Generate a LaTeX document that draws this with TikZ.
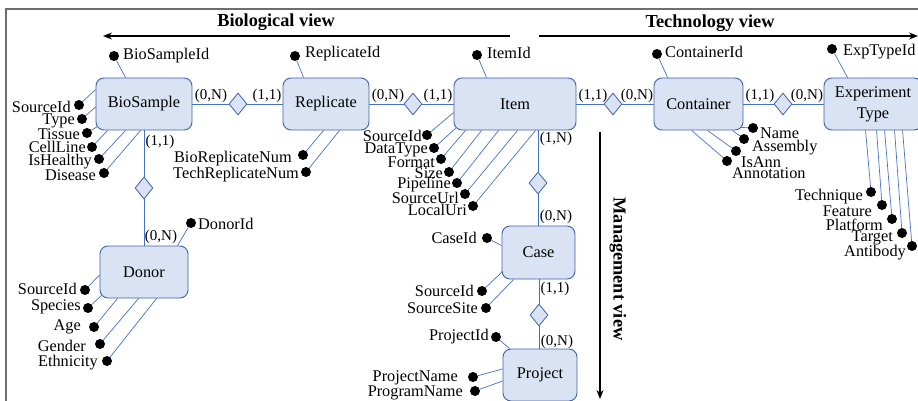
\documentclass[tikz,border=0pt]{standalone}
\usepackage{fontspec}
\setmainfont{Liberation Serif}
\usetikzlibrary{shapes.geometric,arrows.meta,calc}
\definecolor{entf}{RGB}{218,227,243}
\definecolor{entb}{RGB}{62,98,168}
\definecolor{lnb}{RGB}{68,114,196}
\definecolor{frm}{RGB}{110,110,110}
\newcommand\attdot[5]{\node[dotn] (#1) at (#2) {};\node[att,anchor=#3] (#1t) at (#4) {#5};}
\begin{document}
\begin{tikzpicture}[x=1pt,y=-1pt,
  ent/.style={draw=entb,fill=entf,rounded corners=8pt,line width=0.9pt,inner sep=0pt,
    font=\fontsize{16.3}{21}\selectfont,align=center},
  rel/.style={diamond,draw=entb,fill=entf,line width=0.8pt,minimum width=18pt,minimum height=22pt,inner sep=0pt},
  dotn/.style={circle,fill=black,inner sep=0pt,minimum size=10pt},
  lnk/.style={draw=lnb,line width=0.7pt},
  att/.style={inner sep=0pt,font=\fontsize{16.3}{19}\selectfont},
  card/.style={inner sep=0pt,font=\fontsize{15}{17}\selectfont},
  ttl/.style={inner sep=0pt,font=\fontsize{18.3}{21}\selectfont\bfseries},
  varrow/.style={line width=1.6pt,-{Stealth[length=9pt,width=7pt]}}]
\clip (0,0) rectangle (918,401);
% frame
\draw[frm,line width=1.2pt] (920,9) -- (6,9) -- (6,403);
% view arrows and titles
\node[ttl] (tbio) at (276,22) {Biological view};
\node[ttl] (ttec) at (710,23) {Technology view};
\node[ttl,rotate=-90] (tman) at (618,269) {Management view};
\coordinate (bvR) at (510,36); \coordinate (bvL) at (103,36);
\coordinate (tvL) at (539,36); \coordinate (tvR) at (918,36);
\coordinate (mvT) at (600,132); \coordinate (mvB) at (600,399);
\draw[varrow] (bvR) -- (bvL);
\draw[varrow] (tvL) -- (tvR);
\draw[varrow] (mvT) -- (mvB);
% entities
\node[ent,minimum width=96pt,minimum height=52pt] (bs) at (144,104) {BioSample};
\node[ent,minimum width=86pt,minimum height=52pt] (rp) at (326,104) {Replicate};
\node[ent,minimum width=122pt,minimum height=52pt] (it) at (515,104) {Item};
\node[ent,minimum width=89pt,minimum height=52pt] (ct) at (698.5,104) {Container};
\node[ent,minimum width=98pt,minimum height=52pt] (et) at (873,104) {Experiment\\Type};
\node[ent,minimum width=88pt,minimum height=52pt] (dn) at (144,272) {Donor};
\node[ent,minimum width=73pt,minimum height=53pt] (cs) at (538.5,252.5) {Case};
\node[ent,minimum width=74pt,minimum height=52pt] (pj) at (540,375) {Project};
% relationships
\node[rel] (r1) at (238,104) {};
\node[rel] (r2) at (413,104) {};
\node[rel] (r3) at (613,104) {};
\node[rel] (r4) at (783,104) {};
\node[rel] (r5) at (144,188) {};
\node[rel] (r6) at (538,183) {};
\node[rel] (r7) at (539,315) {};
\draw[lnk] (bs) -- (r1) -- (rp);
\draw[lnk] (rp) -- (r2) -- (it);
\draw[lnk] (it) -- (r3) -- (ct);
\draw[lnk] (ct) -- (r4) -- (et);
\draw[lnk] (bs) -- (r5) -- (dn);
\draw[lnk] (r6 |- it.south) -- (r6) -- (r6 |- cs.north);
\draw[lnk] (r7 |- cs.south) -- (r7) -- (r7 |- pj.north);
% cardinalities
\node[card] (c1) at (211,96) {(0,N)};
\node[card] (c2) at (267,96) {(1,1)};
\node[card] (c3) at (388,96) {(0,N)};
\node[card] (c4) at (438,96) {(1,1)};
\node[card] (c5) at (593,96) {(1,1)};
\node[card] (c6) at (637,96) {(0,N)};
\node[card] (c7) at (760,96) {(1,1)};
\node[card] (c8) at (807,96) {(0,N)};
\node[card] (c9) at (160,142) {(1,1)};
\node[card] (c10) at (161,237) {(0,N)};
\node[card] (c11) at (556,139) {(1,N)};
\node[card] (c12) at (556,217) {(0,N)};
\node[card] (c13) at (555,289) {(1,1)};
\node[card] (c14) at (557,342) {(0,N)};
% BioSample attributes
\attdot{bsid}{114,56}{west}{123,56}{BioSampleId}
\attdot{bsa}{79,105}{east}{71,107}{SourceId}
\attdot{bsb}{82,119}{east}{75,121}{Type}
\attdot{bsc}{87,133}{east}{80,134}{Tissue}
\attdot{bsd}{92,147}{east}{86,147}{CellLine}
\attdot{bse}{99,159}{east}{92,162}{IsHealthy}
\attdot{bsf}{104,173}{east}{96,175}{Disease}
\draw[lnk] (bsid) -- ($(bs.north west)+(30,0)$);
\draw[lnk] (bsa) -- ($(bs.north west)+(0,12)$);
\draw[lnk] (bsb) -- ($(bs.west)+(0,3)$);
\draw[lnk] (bsc) -- ($(bs.south west)+(2,-4)$);
\draw[lnk] (bsd) -- ($(bs.south west)+(12,0)$);
\draw[lnk] (bse) -- ($(bs.south west)+(30,0)$);
\draw[lnk] (bsf) -- ($(bs.south west)+(45,0)$);
% Replicate attributes
\attdot{rpid}{295,56}{west}{305,54}{ReplicateId}
\attdot{rpa}{303,155}{east}{292,159}{BioReplicateNum}
\attdot{rpb}{306,172}{east}{299,175}{TechReplicateNum}
\draw[lnk] (rpid) -- ($(rp.north west)+(21,0)$);
\draw[lnk] (rpa) -- ($(rp.south west)+(41,0)$);
\draw[lnk] (rpb) -- ($(rp.south west)+(57,0)$);
% Item attributes
\attdot{itid}{477,55}{west}{487,53}{ItemId}
\attdot{ita}{427,135}{east}{422,136}{SourceId}
\attdot{itb}{434,148}{east}{428,150}{DataType}
\attdot{itc}{441,159}{east}{435,162}{Format}
\attdot{itd}{449,172}{east}{443,173}{Size}
\attdot{ite}{457,183}{east}{451,185}{Pipeline}
\attdot{itf}{465,194}{east}{459,198}{SourceUrl}
\attdot{itg}{473,206}{east}{467,210}{LocalUri}
\draw[lnk] (itid) -- ($(it.north west)+(33,0)$);
\draw[lnk] (ita) -- ($(it.north west)+(0,35)$);
\draw[lnk] (itb) -- ($(it.south west)+(3,-3)$);
\draw[lnk] (itc) -- ($(it.south west)+(12,0)$);
\draw[lnk] (itd) -- ($(it.south west)+(28,0)$);
\draw[lnk] (ite) -- ($(it.south west)+(45,0)$);
\draw[lnk] (itf) -- ($(it.south west)+(64,0)$);
\draw[lnk] (itg) -- ($(it.south west)+(82,0)$);
% Container attributes
\attdot{ctid}{657,54}{west}{665,52}{ContainerId}
\attdot{cta}{753,128}{west}{760,133}{Name}
\attdot{ctb}{744,139}{west}{752,148}{Assembly}
\attdot{ctc}{736,151}{west}{741,162}{IsAnn}
\attdot{ctd}{727,161}{west}{732,173}{Annotation}
\draw[lnk] (ctid) -- ($(ct.north west)+(14,0)$);
\draw[lnk] (cta) -- ($(ct.south east)+(-2,-3)$);
\draw[lnk] (ctb) -- ($(ct.south east)+(-11,0)$);
\draw[lnk] (ctc) -- ($(ct.south west)+(54,0)$);
\draw[lnk] (ctd) -- ($(ct.south west)+(38,0)$);
% Experiment Type attributes
\attdot{etid}{832,49}{west}{843,52}{ExpTypeId}
\attdot{eta}{871,192}{east}{863,197}{Technique}
\attdot{etb}{882,205}{east}{872,211}{Feature}
\attdot{etc}{892,219}{east}{883,225}{Platform}
\attdot{etd}{902,233}{east}{893,238}{Target}
\attdot{ete}{912,246}{east}{906,253}{Antibody}
\draw[lnk] (etid) -- ($(et.north west)+(24,0)$);
\draw[lnk] (eta) -- ($(et.south west)+(42,0)$);
\draw[lnk] (etb) -- ($(et.south west)+(53,0)$);
\draw[lnk] (etc) -- ($(et.south west)+(61,0)$);
\draw[lnk] (etd) -- ($(et.south west)+(71,0)$);
\draw[lnk] (ete) -- ($(et.south west)+(79,0)$);
% Donor attributes
\attdot{dnid}{191,223}{west}{198,224}{DonorId}
\attdot{dna}{85,290}{east}{77,289}{SourceId}
\attdot{dnb}{88,308}{east}{81,307}{Species}
\attdot{dnc}{94,327}{east}{81,327}{Age}
\attdot{dnd}{100,344}{east}{86,346}{Gender}
\attdot{dne}{107,361}{east}{98,363}{Ethnicity}
\draw[lnk] (dnid) -- ($(dn.north east)+(-11,0)$);
\draw[lnk] (dna) -- ($(dn.west)+(0,3)$);
\draw[lnk] (dnb) -- ($(dn.south west)+(2,-3)$);
\draw[lnk] (dnc) -- ($(dn.south west)+(18,0)$);
\draw[lnk] (dnd) -- ($(dn.south west)+(39,0)$);
\draw[lnk] (dne) -- ($(dn.south west)+(57,0)$);
% Case attributes
\attdot{csid}{487,238}{east}{477,238}{CaseId}
\attdot{csa}{482,291}{east}{474,291}{SourceId}
\attdot{csb}{486,308}{east}{478,308}{SourceSite}
\draw[lnk] (csid) -- ($(cs.west)+(0,-7)$);
\draw[lnk] (csa) -- ($(cs.south west)+(1,-8)$);
\draw[lnk] (csb) -- ($(cs.south west)+(12,0)$);
% Project attributes
\attdot{pjid}{496,337}{east}{489,337}{ProjectId}
\attdot{pja}{473,377}{east}{458,378}{ProjectName}
\attdot{pjb}{475,391}{east}{463,393}{ProgramName}
\draw[lnk] (pjid) -- ($(pj.north west)+(7,0)$);
\draw[lnk] (pja) -- ($(pj.west)+(0,-6)$);
\draw[lnk] (pjb) -- ($(pj.west)+(0,6)$);
\end{tikzpicture}
\end{document}
